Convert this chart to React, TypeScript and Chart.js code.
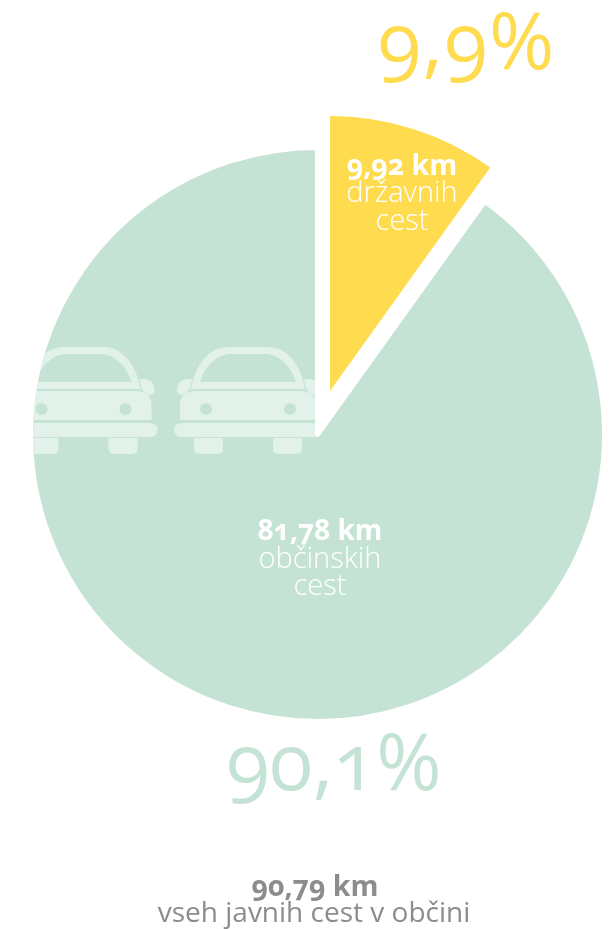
import React, { useEffect, useRef } from "react";
import { Chart, registerables } from "chart.js";

Chart.register(...registerables);

const categories = ["državnih cest", "občinskih cest"];
const shares = [9.9, 90.1];
const sliceColours = ["#FFDB4F", "#C5E3D5"];
const borderWidths = [0, 5];

const FONT = '"Open Sans", "Noto Sans", sans-serif';

const detachSlice = {
  id: "detachSlice",
  afterDatasetsUpdate(chart: any) {
    const arc = chart.getDatasetMeta(0).data[0];
    arc.x = 330;
    arc.y = 391;
    arc.outerRadius = 275;
  },
};

type LabelProps = {
  text: string;
  cx: number;
  baseline: number;
  size: number;
  weight: number;
  color: string;
  spacing?: number;
};

function Label({ text, cx, baseline, size, weight, color, spacing = 0 }: LabelProps) {
  return (
    <div
      style={{
        position: "absolute",
        left: cx - 300,
        width: 600,
        top: baseline - size,
        height: size * 1.2,
        lineHeight: `${size * 1.2}px`,
        fontFamily: FONT,
        fontSize: size,
        fontWeight: weight,
        color,
        letterSpacing: spacing,
        textAlign: "center",
        whiteSpace: "nowrap",
        fontFeatureSettings: '"onum" 1',
      }}
    >
      {text}
    </div>
  );
}

function Car({ cx }: { cx: number }) {
  return (
    <g transform={`translate(${cx} 0)`}>
      <path
        fillRule="evenodd"
        d="M-57,389 C-53,364 -38,347 -20,347 L20,347 C38,347 53,364 57,389 Z M-48,382 L48,382 C43,365 30,354 17,354 L-17,354 C-30,354 -43,365 -48,382 Z"
      />
      <path
        fillRule="evenodd"
        d="M-68,420 L-68,405 Q-68,391 -52,391 L52,391 Q68,391 68,405 L68,420 Z M-36,409 A6,6 0 1 0 -48,409 A6,6 0 1 0 -36,409 Z M48,409 A6,6 0 1 0 36,409 A6,6 0 1 0 48,409 Z"
      />
      <rect x={-74} y={423} width={148} height={14} rx={7} />
      <path d="M-54,438 L-25,438 L-25,448 Q-25,454 -31,454 L-48,454 Q-54,454 -54,448 Z" />
      <path d="M25,438 L54,438 L54,448 Q54,454 48,454 L31,454 Q25,454 25,448 Z" />
      <path d="M-56,379 L-62,379 Q-71,381 -71,390 Q-71,395 -66,395 Q-60,393 -58,388 Z" />
      <path d="M56,379 L62,379 Q71,381 71,390 Q71,395 66,395 Q60,393 58,388 Z" />
    </g>
  );
}

export default function App() {
  const ref = useRef<HTMLCanvasElement>(null);

  useEffect(() => {
    const chart = new Chart(ref.current as HTMLCanvasElement, {
      type: "pie",
      data: {
        labels: categories,
        datasets: [
          {
            data: shares,
            backgroundColor: sliceColours,
            borderColor: "#ffffff",
            borderWidth: borderWidths,
            borderJoinStyle: "round",
            radius: 287,
          } as any,
        ],
      },
      options: {
        animation: false,
        responsive: false,
        layout: { padding: { left: 21, right: 0, top: 0, bottom: 60 } },
        plugins: { legend: { display: false }, tooltip: { enabled: false } },
      },
      plugins: [detachSlice],
    });
    return () => chart.destroy();
  }, []);

  return (
    <div style={{ position: "absolute", left: 0, top: 0, width: 614, height: 929, overflow: "hidden", background: "#fff" }}>
      <canvas ref={ref} width={614} height={929} style={{ position: "absolute", left: 0, top: 0 }} />
      <svg width={614} height={929} style={{ position: "absolute", left: 0, top: 0 }}>
        <defs>
          <clipPath id="pieEdge">
            <circle cx={317.5} cy={434.5} r={284.5} />
          </clipPath>
          <clipPath id="gapEdge">
            <rect x={0} y={330} width={315} height={140} />
          </clipPath>
        </defs>
        <g clipPath="url(#pieEdge)">
          <g clipPath="url(#gapEdge)" fill="#E2F1EA">
            <Car cx={83.5} />
            <Car cx={248} />
          </g>
        </g>
      </svg>
      <Label text="9,9%" cx={467} baseline={71} size={79} weight={400} color="#FFDB4F" spacing={1.5} />
      <Label text="90,1%" cx={334} baseline={792} size={79} weight={400} color="#C5E3D5" />
      <Label text="9,92 km" cx={402} baseline={175} size={28.5} weight={700} color="#ffffff" />
      <Label text="državnih" cx={402} baseline={203} size={29} weight={300} color="#ffffff" />
      <Label text="cest" cx={402} baseline={231} size={29} weight={300} color="#ffffff" />
      <Label text="81,78 km" cx={320} baseline={541} size={28} weight={700} color="#ffffff" />
      <Label text="občinskih" cx={320} baseline={569} size={29} weight={300} color="#ffffff" />
      <Label text="cest" cx={320} baseline={596} size={29} weight={300} color="#ffffff" />
      <Label text="90,79 km" cx={315} baseline={896} size={28.5} weight={700} color="#8A8C8E" />
      <Label text="vseh javnih cest v občini" cx={314} baseline={923} size={28} weight={400} color="#8A8C8E" />
    </div>
  );
}
